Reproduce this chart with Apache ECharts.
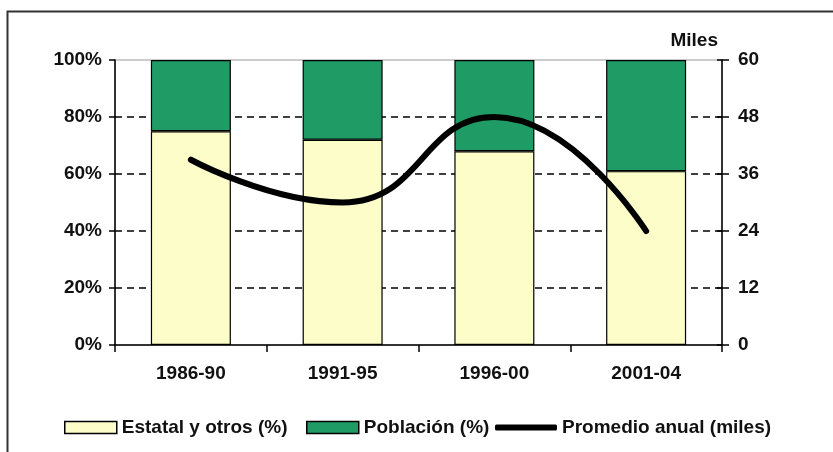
<!DOCTYPE html>
<html>
<head>
<meta charset="utf-8">
<script src="https://cdn.jsdelivr.net/npm/echarts@6/dist/echarts.min.js"></script>
<style>
html,body{margin:0;padding:0;background:#fff;}
#c{width:833px;height:452px;}
</style>
</head>
<body>
<div id="c"></div>
<script>
var categories = ['1986-90', '1991-95', '1996-00', '2001-04'];
var estatal = [75, 72, 68, 61];
var poblacion = [25, 28, 32, 39];
var promedio = [39, 30, 48, 24];
var leftTicks = [0, 20, 40, 60, 80, 100];
var rightTicks = [0, 12, 24, 36, 48, 60];
var names = ['Estatal y otros (%)', 'Población (%)', 'Promedio anual (miles)'];

var FONT = 'Liberation Sans, Arial, sans-serif';
var txt = {fontFamily: FONT, fontWeight: 'bold', fontSize: 19, color: '#111'};

var chart = echarts.init(document.getElementById('c'), null, {renderer: 'canvas'});
chart.setOption({
  animation: false,
  backgroundColor: '#fff',
  graphic: [{
    type: 'rect', silent: true, z: -10,
    shape: {x: 7.5, y: 11.5, width: 900, height: 500},
    style: {fill: 'none', stroke: '#333', lineWidth: 2}
  }],
  grid: {left: 115, right: 111, top: 60, bottom: 107, show: true, borderColor: '#999', borderWidth: 1, backgroundColor: 'transparent'},
  legend: [
    {data: [{name: names[0], icon: 'rect'}], left: 64, top: 418, itemWidth: 52, itemHeight: 12, itemGap: 0, textStyle: txt, padding: 0,
     itemStyle: {borderColor: '#000', borderWidth: 1.5}},
    {data: [{name: names[1], icon: 'rect'}], left: 306, top: 418, itemWidth: 52, itemHeight: 12, itemGap: 0, textStyle: txt, padding: 0,
     itemStyle: {borderColor: '#000', borderWidth: 1.5}},
    {data: [{name: names[2], icon: 'roundRect'}], left: 495, top: 418, itemWidth: 62, itemHeight: 6, itemGap: 0, textStyle: txt, padding: 0,
     itemStyle: {color: '#000', borderWidth: 0}}
  ],
  xAxis: {
    type: 'category', data: categories,
    axisLine: {lineStyle: {color: '#000', width: 1.5}},
    axisTick: {show: true, length: 7, alignWithLabel: false, lineStyle: {color: '#000', width: 1.5}},
    axisLabel: Object.assign({margin: 19}, txt)
  },
  yAxis: [
    {
      type: 'value', min: leftTicks[0], max: leftTicks[leftTicks.length - 1], interval: 20,
      axisLine: {show: true, lineStyle: {color: '#000', width: 1.5}},
      axisTick: {show: true, length: 6, lineStyle: {color: '#000', width: 1.5}},
      axisLabel: Object.assign({margin: 13, formatter: '{value}%'}, txt),
      splitLine: {show: true, showMinLine: false, showMaxLine: false, lineStyle: {color: '#000', width: 1.6, type: [7, 5]}}
    },
    {
      type: 'value', position: 'right', min: rightTicks[0], max: rightTicks[rightTicks.length - 1], interval: 12,
      name: 'Miles', nameLocation: 'end', nameGap: 10,
      nameTextStyle: Object.assign({align: 'right', verticalAlign: 'bottom', padding: [0, 4, 0, 0]}, txt),
      axisLine: {show: true, lineStyle: {color: '#000', width: 1.5}},
      axisTick: {show: true, length: 7, lineStyle: {color: '#000', width: 1.5}},
      axisLabel: Object.assign({margin: 16}, txt),
      splitLine: {show: false}
    },
    {
      type: 'value', position: 'right', min: rightTicks[0], max: rightTicks[rightTicks.length - 1], interval: 12,
      axisLine: {show: false},
      axisTick: {show: true, inside: true, length: 5, lineStyle: {color: '#000', width: 1.5}},
      axisLabel: {show: false},
      splitLine: {show: false}
    }
  ],
  series: [
    {
      name: names[0], type: 'bar', stack: 's', data: estatal, barWidth: 80, z: 3,
      itemStyle: {color: '#FCFDC8', borderColor: '#000', borderWidth: 1.2}
    },
    {
      name: names[1], type: 'bar', stack: 's', data: poblacion, barWidth: 80, z: 3,
      itemStyle: {color: '#1F9C66', borderColor: '#000', borderWidth: 1.2}
    },
    {
      name: names[2], type: 'line', yAxisIndex: 1, data: promedio, smooth: 0.5,
      showSymbol: false, symbol: 'none', z: 5,
      lineStyle: {color: '#000', width: 6, cap: 'round'},
      itemStyle: {color: '#000'}
    }
  ]
});
</script>
</body>
</html>
